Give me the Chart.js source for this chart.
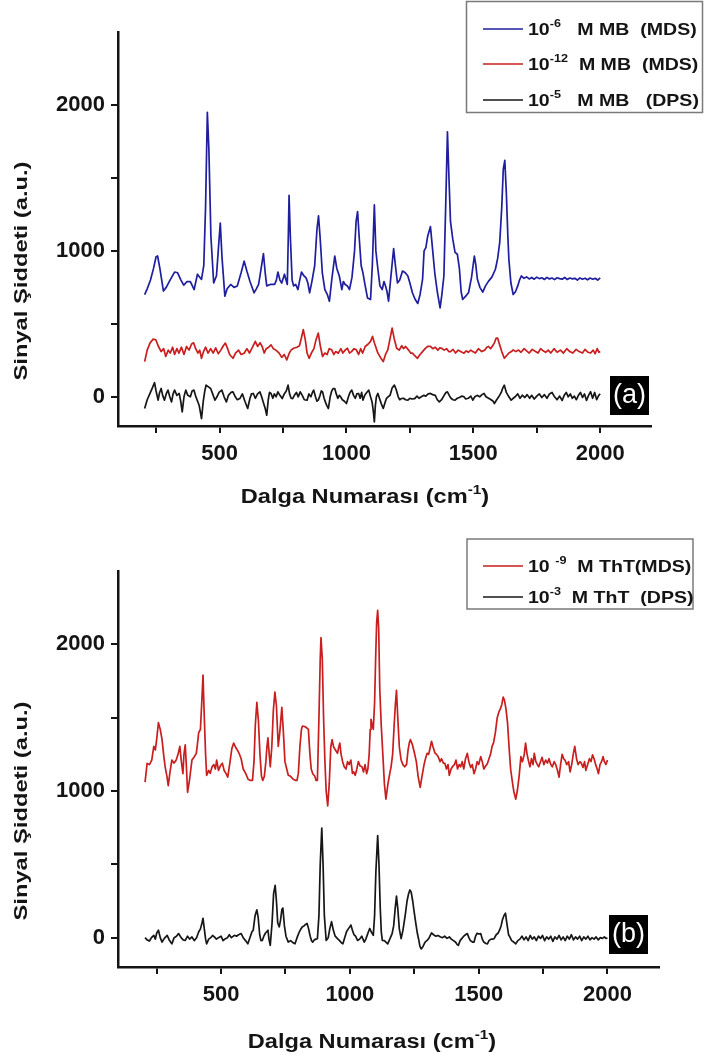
<!DOCTYPE html>
<html>
<head>
<meta charset="utf-8">
<title>Raman spektrumları</title>
<script src="https://cdn.jsdelivr.net/npm/chart.js@4/dist/chart.umd.min.js"></script>
<style>
  html, body { margin: 0; padding: 0; background: #fff; overflow: hidden; }
  canvas { position: absolute; left: 0; display: block; }
  #chartA { top: 0; }
  #chartB { top: 520px; }
</style>
</head>
<body>
<canvas id="chartA" width="704" height="520"></canvas>
<canvas id="chartB" width="704" height="537"></canvas>
<script>
const FONT = '"Liberation Sans", Arial, sans-serif';
const INK = '#141414';

// axis ticks (only every second one gets a label)
const waveTicks = [250, 500, 750, 1000, 1250, 1500, 1750, 2000];
const signalTicks = [0, 500, 1000, 1500, 2000];

// (a) metilen mavisi spektrumları: [dalga sayısı, sinyal]
const mbMds6 = [
  [205,700],[215,740],[228,800],[240,880],[250,960],[256,965],[265,880],[279,725],[290,750],[305,800],
  [323,855],[335,850],[348,800],[359,765],[372,790],[385,790],[400,735],[413,840],[422,820],[429,805],
  [438,900],[445,1300],[452,1950],[458,1700],[466,1100],[477,780],[488,830],[497,1050],[503,1190],[510,950],
  [521,690],[530,740],[544,770],[557,750],[570,760],[585,850],[597,930],[608,860],[620,790],[636,713],
  [645,740],[654,770],[664,880],[673,982],[680,850],[686,760],[700,770],[717,770],[724,800],[730,855],
  [738,800],[745,780],[756,840],[762,800],[767,770],[771,1100],[774,1380],[779,1100],[786,800],[792,760],
  [800,770],[809,735],[816,800],[823,855],[832,830],[841,815],[848,780],[855,713],[865,800],[875,900],
  [884,1150],[890,1240],[896,1100],[905,850],[915,735],[925,700],[933,655],[942,800],[954,965],[962,880],
  [972,828],[982,735],[988,790],[995,770],[1004,760],[1012,735],[1022,820],[1032,1000],[1038,1200],[1044,1270],
  [1050,1100],[1058,900],[1065,850],[1074,760],[1083,678],[1095,667],[1102,900],[1110,1315],[1116,1000],[1124,874],
  [1132,760],[1141,735],[1148,790],[1154,760],[1160,720],[1166,655],[1175,820],[1186,1016],[1193,900],[1201,780],
  [1210,800],[1221,862],[1232,850],[1242,828],[1250,780],[1260,713],[1270,670],[1281,640],[1290,700],[1300,805],
  [1306,1000],[1313,1023],[1320,1100],[1331,1166],[1340,1000],[1348,850],[1358,720],[1369,610],[1376,700],[1384,828],
  [1391,1300],[1398,1816],[1404,1500],[1410,1200],[1419,1080],[1428,990],[1437,977],[1445,880],[1452,720],[1458,667],
  [1470,690],[1481,713],[1493,820],[1504,965],[1510,900],[1516,805],[1526,750],[1537,717],[1548,760],[1560,793],
  [1573,820],[1587,874],[1596,950],[1604,1058],[1612,1300],[1618,1560],[1624,1620],[1630,1400],[1636,1100],[1640,943],
  [1648,780],[1657,701],[1666,720],[1675,760],[1682,800],[1689,828],[1700,812],[1710,822],[1720,808],[1730,818],
  [1740,806],[1750,820],[1760,810],[1770,816],[1780,804],[1790,818],[1800,808],[1810,814],[1820,803],[1830,816],
  [1840,810],[1850,806],[1860,818],[1870,804],[1880,814],[1890,808],[1900,812],[1910,800],[1920,815],[1930,806],
  [1940,813],[1950,802],[1960,814],[1970,806],[1980,812],[1990,800],[2000,815]
];
const mbMds12 = [
  [205,241],[215,320],[226,368],[238,395],[249,391],[258,350],[270,310],[280,330],[288,276],[298,320],
  [306,300],[315,340],[323,290],[332,330],[340,300],[350,340],[360,290],[370,345],[380,320],[390,362],
  [398,370],[406,330],[415,300],[422,320],[429,264],[437,310],[445,340],[455,300],[465,330],[475,300],
  [485,335],[495,295],[505,320],[515,350],[523,368],[532,330],[540,290],[553,264],[563,300],[575,320],
  [585,290],[597,299],[608,330],[618,300],[630,340],[641,380],[650,345],[660,370],[668,345],[676,300],
  [684,330],[694,340],[703,356],[712,330],[722,320],[735,299],[745,270],[755,290],[765,253],[775,300],
  [782,320],[792,333],[805,340],[815,350],[822,400],[830,460],[838,390],[845,300],[853,264],[862,300],
  [872,330],[880,390],[889,437],[897,350],[906,276],[915,300],[924,290],[932,330],[942,322],[950,290],
  [958,310],[968,299],[978,330],[986,300],[995,320],[1004,333],[1012,300],[1020,310],[1030,330],[1039,322],
  [1048,290],[1056,330],[1064,300],[1074,345],[1085,360],[1095,380],[1103,414],[1110,370],[1118,330],[1124,299],
  [1134,270],[1145,241],[1154,290],[1163,322],[1172,400],[1180,471],[1188,400],[1198,333],[1208,320],[1218,350],
  [1225,330],[1233,345],[1245,320],[1253,300],[1260,299],[1270,280],[1280,264],[1290,290],[1300,310],[1310,330],
  [1320,345],[1331,345],[1340,330],[1350,340],[1360,320],[1368,335],[1375,333],[1385,320],[1395,330],[1403,310],
  [1410,310],[1420,325],[1430,300],[1440,320],[1450,310],[1463,299],[1472,315],[1480,305],[1490,320],[1498,310],
  [1508,300],[1520,330],[1533,310],[1545,320],[1553,340],[1560,345],[1568,330],[1576,350],[1583,370],[1590,402],
  [1596,402],[1603,360],[1612,310],[1622,264],[1630,280],[1640,300],[1650,310],[1657,322],[1667,310],[1678,320],
  [1688,305],[1700,330],[1710,315],[1720,300],[1732,325],[1745,310],[1755,300],[1765,330],[1775,315],[1785,305],
  [1795,320],[1805,300],[1818,330],[1830,305],[1843,320],[1855,300],[1868,330],[1880,310],[1892,300],[1905,325],
  [1917,310],[1930,300],[1940,325],[1952,305],[1962,300],[1972,320],[1980,295],[1988,330],[1995,305],[2000,310]
];
const mbDps5 = [
  [205,-80],[215,-20],[226,23],[235,60],[244,97],[250,40],[258,-23],[264,30],[270,57],[276,10],
  [283,-23],[290,20],[297,46],[304,0],[311,-35],[317,20],[323,46],[332,10],[341,23],[347,-30],
  [353,-103],[360,0],[367,46],[375,10],[385,0],[392,40],[399,46],[405,10],[412,-23],[420,-60],
  [429,-150],[436,-30],[442,40],[447,80],[455,70],[465,57],[473,20],[482,-23],[490,0],[498,30],
  [509,46],[518,0],[527,-35],[535,10],[545,30],[553,34],[562,0],[570,-20],[580,-12],[590,20],
  [600,-30],[611,-80],[620,-10],[626,20],[633,23],[641,-10],[650,20],[659,34],[666,0],[673,-40],
  [680,-80],[686,-126],[692,-20],[697,30],[703,23],[710,-10],[716,20],[723,0],[730,34],[738,10],
  [747,-12],[755,20],[763,40],[770,80],[776,20],[782,-10],[788,-12],[795,10],[803,30],[810,0],
  [818,34],[826,10],[834,-20],[845,-23],[852,20],[860,0],[866,30],[871,46],[878,0],[884,-30],
  [889,-23],[896,10],[901,40],[906,34],[912,-10],[918,-40],[923,-60],[929,-80],[936,0],[942,40],
  [948,57],[954,57],[960,20],[966,-10],[972,10],[977,0],[984,-20],[992,-30],[1000,-46],[1008,0],
  [1014,30],[1021,46],[1028,10],[1035,-10],[1041,20],[1048,23],[1054,-10],[1060,30],[1065,-23],[1072,10],
  [1080,30],[1088,46],[1095,0],[1101,-35],[1106,-100],[1110,-172],[1114,-60],[1118,0],[1124,23],[1132,-20],
  [1138,-50],[1145,-80],[1152,-40],[1158,-10],[1164,0],[1172,11],[1180,60],[1189,80],[1196,50],[1204,0],
  [1210,-20],[1216,-12],[1225,-10],[1233,-20],[1242,-23],[1250,-10],[1258,-15],[1269,-12],[1278,5],[1286,-10],
  [1295,0],[1305,10],[1313,5],[1322,20],[1331,23],[1340,15],[1350,10],[1358,-20],[1366,-35],[1375,-20],
  [1385,10],[1392,30],[1398,34],[1405,10],[1412,-10],[1420,-20],[1428,-23],[1437,-10],[1445,-5],[1455,5],
  [1463,0],[1470,-15],[1480,-10],[1490,5],[1498,-23],[1506,0],[1515,10],[1525,0],[1534,15],[1542,23],
  [1550,0],[1560,-10],[1570,-20],[1578,-30],[1583,-46],[1592,-20],[1600,0],[1610,30],[1616,60],[1622,80],
  [1630,30],[1640,0],[1649,-23],[1657,-10],[1665,0],[1675,20],[1684,-10],[1693,11],[1703,-5],[1712,15],
  [1722,-10],[1730,10],[1740,-15],[1750,5],[1760,20],[1770,-5],[1780,15],[1790,-10],[1800,20],[1810,30],
  [1820,0],[1830,-20],[1840,5],[1850,-25],[1858,10],[1866,30],[1874,0],[1882,20],[1890,-10],[1898,5],
  [1906,-20],[1914,10],[1922,30],[1930,-5],[1938,20],[1946,-25],[1954,10],[1962,35],[1970,-10],[1978,30],
  [1986,-20],[1994,10],[2000,20]
];

// (b) tiyoflavin T spektrumları
const thtMds9 = [
  [205,1060],[213,1188],[222,1180],[231,1211],[239,1304],[245,1280],[250,1350],[257,1466],[264,1420],[271,1350],
  [277,1250],[283,1165],[290,1100],[295,1037],[302,1130],[309,1211],[317,1190],[326,1211],[333,1250],[340,1304],
  [346,1200],[352,1118],[356,1250],[361,1315],[366,1150],[370,991],[378,1080],[387,1211],[395,1230],[404,1257],
  [409,1330],[413,1397],[420,1420],[425,1600],[430,1791],[435,1500],[440,1250],[444,1107],[452,1140],[458,1120],
  [465,1165],[472,1180],[478,1150],[483,1211],[490,1141],[497,1170],[505,1190],[512,1140],[519,1120],[526,1095],
  [535,1200],[542,1290],[549,1327],[556,1300],[563,1280],[570,1257],[578,1220],[586,1150],[596,1118],[605,1080],
  [614,1072],[622,1072],[628,1200],[633,1450],[639,1605],[645,1480],[651,1250],[657,1100],[662,1072],[668,1100],
  [674,1200],[678,1300],[682,1362],[687,1250],[691,1165],[697,1300],[703,1550],[709,1675],[715,1580],[722,1304],
  [728,1400],[736,1571],[742,1400],[748,1200],[755,1150],[761,1107],[770,1100],[780,1080],[790,1072],[795,1072],
  [800,1120],[806,1300],[812,1420],[816,1443],[825,1440],[833,1430],[839,1420],[845,1250],[850,1150],[856,1118],
  [864,1100],[869,1072],[874,1072],[880,1500],[885,1900],[888,2046],[893,1900],[898,1500],[903,1211],[908,1000],
  [914,898],[920,1050],[926,1300],[931,1350],[937,1300],[944,1280],[952,1257],[957,1300],[961,1327],[966,1250],
  [972,1200],[978,1165],[985,1150],[991,1200],[997,1180],[1004,1211],[1010,1120],[1015,1130],[1021,1107],[1027,1150],
  [1033,1200],[1040,1170],[1047,1165],[1053,1130],[1059,1180],[1065,1118],[1070,1150],[1075,1250],[1079,1420],[1082,1489],
  [1087,1450],[1091,1420],[1096,1600],[1100,1900],[1104,2150],[1108,2232],[1112,2100],[1116,1700],[1122,1443],[1128,1250],
  [1134,1050],[1140,944],[1148,1050],[1155,1120],[1160,1165],[1166,1250],[1172,1450],[1177,1600],[1181,1687],[1186,1500],
  [1192,1300],[1199,1211],[1206,1180],[1213,1165],[1220,1180],[1226,1280],[1231,1330],[1235,1350],[1242,1320],[1251,1257],
  [1258,1200],[1265,1100],[1273,1025],[1280,1100],[1288,1180],[1295,1230],[1300,1257],[1306,1250],[1311,1290],[1317,1339],
  [1323,1300],[1330,1260],[1336,1250],[1343,1234],[1350,1200],[1356,1220],[1363,1190],[1369,1188],[1375,1150],[1381,1180],
  [1386,1107],[1393,1150],[1400,1170],[1406,1180],[1412,1211],[1418,1150],[1424,1180],[1430,1165],[1436,1200],[1442,1150],
  [1449,1220],[1456,1257],[1462,1200],[1469,1160],[1475,1180],[1482,1118],[1488,1150],[1494,1200],[1500,1180],[1508,1234],
  [1514,1200],[1520,1150],[1527,1170],[1534,1188],[1540,1220],[1546,1250],[1552,1304],[1558,1330],[1565,1400],[1572,1500],
  [1578,1536],[1584,1560],[1590,1590],[1595,1640],[1600,1620],[1606,1560],[1612,1466],[1618,1300],[1624,1150],[1630,1072],
  [1636,1000],[1644,944],[1650,1000],[1657,1100],[1664,1234],[1670,1200],[1677,1250],[1682,1327],[1688,1250],[1694,1200],
  [1699,1165],[1705,1220],[1711,1180],[1716,1257],[1722,1200],[1728,1180],[1733,1165],[1740,1200],[1746,1230],[1753,1180],
  [1760,1211],[1767,1190],[1773,1220],[1780,1180],[1786,1165],[1793,1200],[1799,1180],[1806,1140],[1812,1095],[1818,1180],
  [1824,1250],[1830,1220],[1835,1211],[1842,1180],[1849,1200],[1855,1130],[1861,1180],[1867,1250],[1873,1304],[1880,1220],
  [1886,1180],[1893,1200],[1899,1188],[1905,1160],[1911,1200],[1916,1141],[1923,1180],[1930,1220],[1936,1200],[1942,1246],
  [1948,1220],[1954,1180],[1960,1150],[1965,1118],[1971,1180],[1977,1200],[1983,1234],[1988,1200],[1994,1180],[2000,1211]
];
const thtDps3 = [
  [205,0],[213,-15],[222,-23],[230,0],[239,16],[245,-10],[250,30],[257,51],[264,0],[271,-30],
  [280,-5],[291,16],[300,-20],[309,-42],[318,0],[327,10],[335,28],[345,0],[353,-15],[361,-19],
  [370,10],[378,-10],[387,5],[396,-20],[405,0],[413,39],[420,60],[426,100],[430,132],[435,60],
  [440,-10],[444,-42],[452,-10],[460,0],[467,15],[474,5],[482,-10],[490,0],[500,10],[508,-20],
  [517,-7],[525,0],[532,20],[540,0],[552,16],[560,10],[568,20],[578,28],[586,0],[595,-20],
  [604,-42],[612,0],[620,40],[625,51],[632,150],[639,190],[644,140],[650,20],[655,-20],[660,-19],
  [666,10],[672,30],[677,40],[682,51],[686,-10],[691,-53],[698,100],[704,300],[710,357],[715,250],
  [720,100],[726,74],[731,120],[736,190],[740,202],[746,80],[752,10],[761,-30],[770,-20],[780,-35],
  [787,-42],[795,0],[804,40],[810,60],[816,74],[822,80],[828,90],[834,97],[840,60],[846,10],
  [851,-20],[856,-30],[862,-15],[868,-10],[874,-7],[880,150],[885,500],[891,747],[896,500],[901,150],
  [908,-19],[916,0],[922,60],[929,109],[936,50],[943,10],[952,-7],[960,-20],[967,-35],[973,-42],
  [980,0],[987,40],[994,60],[1000,75],[1004,86],[1010,50],[1016,20],[1022,10],[1030,-19],[1038,-10],
  [1046,10],[1056,-30],[1062,-10],[1070,30],[1077,63],[1083,40],[1091,16],[1096,150],[1101,450],[1108,696],
  [1113,500],[1118,200],[1122,40],[1126,-19],[1134,-20],[1140,-30],[1147,-42],[1155,-10],[1164,28],[1170,80],
  [1176,200],[1181,283],[1186,200],[1192,60],[1199,-7],[1206,50],[1212,120],[1216,167],[1222,250],[1228,300],
  [1233,325],[1238,310],[1244,250],[1250,170],[1256,97],[1262,30],[1268,-20],[1272,-60],[1277,-77],[1284,-60],
  [1292,-30],[1300,-19],[1308,0],[1317,32],[1325,20],[1334,10],[1342,15],[1352,5],[1360,0],[1368,10],
  [1377,-5],[1386,5],[1394,-10],[1402,-20],[1410,-30],[1416,-45],[1421,-53],[1428,-20],[1435,-5],[1442,10],
  [1449,20],[1456,28],[1462,0],[1468,-20],[1476,-30],[1482,-30],[1488,10],[1494,30],[1500,25],[1508,28],
  [1514,-10],[1520,-30],[1528,-40],[1534,-42],[1540,-20],[1548,-10],[1554,-10],[1560,-7],[1568,20],[1575,30],
  [1581,51],[1587,80],[1592,120],[1598,150],[1604,167],[1610,90],[1616,20],[1621,5],[1628,-20],[1636,-30],
  [1644,-42],[1652,-20],[1660,-10],[1668,10],[1676,-15],[1684,5],[1692,-20],[1700,15],[1708,-10],[1716,5],
  [1724,-20],[1732,10],[1740,-5],[1748,15],[1756,-20],[1764,5],[1772,-10],[1780,10],[1788,-25],[1796,5],
  [1804,-10],[1812,15],[1820,-15],[1828,5],[1836,-20],[1844,10],[1852,-10],[1860,20],[1868,-15],[1876,5],
  [1884,-10],[1892,10],[1900,-20],[1908,5],[1916,-10],[1924,10],[1932,-15],[1940,0],[1948,-10],[1956,5],
  [1964,-15],[1972,0],[1980,-5],[1988,5],[1994,-5],[2000,-2]
];

const toPoints = pairs => pairs.map(([x, y]) => ({ x, y }));

// text made of [string, isSuperscript] pieces, optionally rotated and widened
function drawRich(ctx, parts, o) {
  const size = o.size;
  const supSize = Math.round(size * 0.65);
  const weight = o.weight || 'bold';
  const fontFor = sup => `${weight} ${sup ? supSize : size}px ${FONT}`;
  ctx.save();
  ctx.translate(o.x, o.y);
  if (o.rotate) ctx.rotate(o.rotate);
  ctx.scale(o.stretch || 1, 1);
  const widths = parts.map(([t, sup]) => { ctx.font = fontFor(sup); return ctx.measureText(t).width; });
  const total = widths.reduce((a, b) => a + b, 0);
  let cx = o.align === 'center' ? -total / 2 : 0;
  ctx.fillStyle = o.color || INK;
  ctx.textAlign = 'left';
  ctx.textBaseline = 'alphabetic';
  parts.forEach(([t, sup], i) => {
    ctx.font = fontFor(sup);
    ctx.fillText(t, cx, sup ? -size * 0.45 : 0);
    cx += widths[i];
  });
  ctx.restore();
}

// axis titles, framed legend and the panel tag
function decorPlugin(d) {
  return {
    id: 'decor',
    afterDraw(chart) {
      const ctx = chart.ctx;
      drawRich(ctx, [['Sinyal Şiddeti (a.u.)', false]],
        { x: 27, y: d.yTitleY, size: 19, stretch: 1.25, rotate: -Math.PI / 2, align: 'center' });
      drawRich(ctx, [['Dalga Numarası (cm', false], ['-1', true], [')', false]],
        { x: d.xTitleX, y: d.xTitleY, size: 20, stretch: 1.18, align: 'center' });

      const L = d.legend;
      ctx.save();
      ctx.strokeStyle = '#7a7a7a';
      ctx.lineWidth = 1.5;
      ctx.strokeRect(L.x, L.y, L.w, L.h);
      chart.data.datasets.forEach((ds, i) => {
        const ry = L.rows[i];
        ctx.strokeStyle = ds.borderColor;
        ctx.lineWidth = 1.7;
        ctx.beginPath();
        ctx.moveTo(483, ry);
        ctx.lineTo(523, ry);
        ctx.stroke();
        drawRich(ctx, ds.legendParts, { x: 528, y: ry + 6, size: 17, stretch: 1.15 });
      });
      ctx.fillStyle = '#000';
      ctx.fillRect(d.tag.x, d.tag.y, 39, 39);
      ctx.restore();
      drawRich(ctx, [[d.tag.text, false]],
        { x: d.tag.x + 19.5, y: d.tag.y + 27, size: 27, weight: 'normal', color: '#fff', align: 'center' });
    }
  };
}

function makeChart(id, frame, datasets, decor) {
  const tickFont = { family: FONT, size: 22, weight: 'bold' };
  const axisGrid = { drawOnChartArea: false, drawTicks: true, tickLength: 7, color: INK, lineWidth: 2 };
  const axisBorder = { display: true, color: INK, width: 2.5 };
  return new Chart(document.getElementById(id), {
    type: 'line',
    data: { datasets },
    options: {
      responsive: false,
      animation: false,
      layout: { padding: { top: frame.top, right: frame.right, left: 0, bottom: 0 } },
      elements: { point: { radius: 0 }, line: { borderWidth: 1.7, tension: 0, borderJoinStyle: 'round' } },
      plugins: { legend: { display: false }, tooltip: { enabled: false } },
      scales: {
        x: {
          type: 'linear', min: 100, max: 2200,
          afterFit: s => { s.height = frame.xHeight; },
          afterBuildTicks: s => { s.ticks = waveTicks.map(v => ({ value: v })); },
          grid: axisGrid, border: axisBorder,
          ticks: {
            padding: 8, color: INK, font: tickFont, maxRotation: 0, autoSkip: false,
            callback: v => (v % 500 === 0 ? String(v) : '')
          }
        },
        y: {
          type: 'linear', min: -200, max: 2500,
          afterFit: s => { s.width = 118; },
          afterBuildTicks: s => { s.ticks = signalTicks.map(v => ({ value: v })); },
          grid: axisGrid, border: axisBorder,
          ticks: {
            padding: 6, color: INK, font: tickFont, autoSkip: false,
            callback: v => (v % 1000 === 0 ? String(v) : '')
          }
        }
      }
    },
    plugins: [decorPlugin(decor)]
  });
}

makeChart('chartA', { top: 32, right: 53, xHeight: 94 }, [
  { data: toPoints(mbMds6), borderColor: '#1e1e9e', legendParts: [['10', false], ['-6', true], ['   M MB  (MDS)', false]] },
  { data: toPoints(mbMds12), borderColor: '#c81e1e', legendParts: [['10', false], ['-12', true], ['  M MB  (MDS)', false]] },
  { data: toPoints(mbDps5), borderColor: '#161616', legendParts: [['10', false], ['-5', true], ['   M MB   (DPS)', false]] }
], {
  yTitleY: 271, xTitleX: 365, xTitleY: 503,
  legend: { x: 466.5, y: 1.5, w: 236, h: 111, rows: [29, 64, 100] },
  tag: { x: 610, y: 376, text: '(a)' }
});

makeChart('chartB', { top: 51, right: 45, xHeight: 90 }, [
  { data: toPoints(thtMds9), borderColor: '#c81e1e', legendParts: [['10 ', false], ['-9', true], ['  M ThT(MDS)', false]] },
  { data: toPoints(thtDps3), borderColor: '#161616', legendParts: [['10', false], ['-3', true], ['  M ThT  (DPS)', false]] }
], {
  yTitleY: 291, xTitleX: 372, xTitleY: 528,
  legend: { x: 467, y: 19, w: 226, h: 70, rows: [46, 77] },
  tag: { x: 609, y: 395, text: '(b)' }
});
</script>
</body>
</html>
